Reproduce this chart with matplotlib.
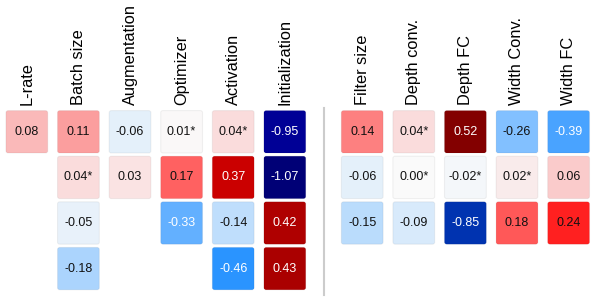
import matplotlib
matplotlib.use("Agg")
import matplotlib.pyplot as plt
import numpy as np
from matplotlib.colors import LinearSegmentedColormap
from matplotlib.patches import FancyBboxPatch

plt.rcParams['font.family'] = ['Liberation Sans', 'DejaVu Sans']

# column names
left_names = ["L-rate", "Batch size", "Augmentation", "Optimizer", "Activation", "Initialization"]
right_names = ["Filter size", "Depth conv.", "Depth FC", "Width Conv.", "Width FC"]

# values per column (top to bottom) and whether they carry a star
left_values = [
    [0.08],
    [0.11, 0.04, -0.05, -0.18],
    [-0.06, 0.03],
    [0.01, 0.17, -0.33],
    [0.04, 0.37, -0.14, -0.46],
    [-0.95, -1.07, 0.42, 0.43],
]
left_stars = [
    [False],
    [False, True, False, False],
    [False, False],
    [True, False, False],
    [True, False, False, False],
    [False, False, False, False],
]
right_values = [
    [0.14, -0.06, -0.15],
    [0.04, 0.00, -0.09],
    [0.52, -0.02, -0.85],
    [-0.26, 0.02, 0.18],
    [-0.39, 0.06, 0.24],
]
right_stars = [
    [False, False, False],
    [True, True, False],
    [False, True, False],
    [False, True, False],
    [False, False, False],
]

# colour scale (value -> colour)
anchors = [
    (-1.10, "#00006e"), (-0.95, "#000096"), (-0.85, "#0033b0"),
    (-0.46, "#2a94ff"), (-0.26, "#82c0ff"), (-0.10, "#d4e8fb"),
    (-0.02, "#f4f7fa"), (0.00, "#fafafa"), (0.01, "#faf8f8"),
    (0.02, "#f9ecec"), (0.04, "#fadcdc"), (0.10, "#faa8a8"),
    (0.17, "#ff6262"), (0.24, "#ff2020"), (0.37, "#cc0000"),
    (0.43, "#aa0000"), (0.55, "#760000"),
]
vmin, vmax = anchors[0][0], anchors[-1][0]
cmap = LinearSegmentedColormap.from_list(
    "diverge", [((v - vmin) / (vmax - vmin), c) for v, c in anchors], N=1024)


def color_for(v):
    return cmap((v - vmin) / (vmax - vmin))


fig = plt.figure(figsize=(5.98, 3.06), dpi=100)
ax = fig.add_axes([0, 0, 1, 1])
ax.set_xlim(-0.52, 11.07)
ax.set_ylim(3.82, -2.89)
ax.axis('off')

# x positions: left group 0..5, right group after a 1.5 gap
left_x = np.arange(len(left_names))
right_x = np.arange(len(right_names)) + len(left_names) + 0.5
box_w, box_h = 0.81, 0.93


def draw_group(xs, names, values, stars):
    for x, name, col, st in zip(xs, names, values, stars):
        ax.text(x, -0.58, name, rotation=90, ha='center', va='bottom', fontsize=11.8)
        for r, (v, s) in enumerate(zip(col, st)):
            box = FancyBboxPatch((x - box_w / 2, r - box_h / 2), box_w, box_h,
                                 boxstyle="round,pad=0,rounding_size=0.045",
                                 facecolor=color_for(v), edgecolor=(0, 0, 0, 0.05), lw=0.8)
            ax.add_patch(box)
            label = f"{v:.2f}" + ("*" if s else "")
            ax.text(x, r, label, ha='center', va='center', fontsize=9,
                    color='white' if abs(v) > 0.3 else '#111111')


draw_group(left_x, left_names, left_values, left_stars)
draw_group(right_x, right_names, right_values, right_stars)

# separator between the two groups
sep = (left_x[-1] + right_x[0]) / 2
ax.plot([sep, sep], [-0.53, 3.57], color='#cccccc', lw=1.5)

fig.savefig("out.png", dpi=100)
